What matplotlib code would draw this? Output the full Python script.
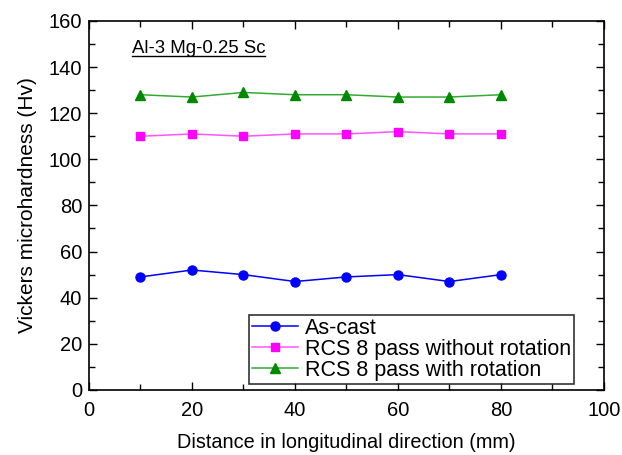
import matplotlib
matplotlib.use("Agg")
import matplotlib.pyplot as plt
from matplotlib.ticker import MultipleLocator
from matplotlib.lines import Line2D

plt.rcParams['font.family'] = ['Liberation Sans', 'DejaVu Sans']

distance = [10, 20, 30, 40, 50, 60, 70, 80]
as_cast = [49, 52, 50, 47, 49, 50, 47, 50]
rcs_no_rot = [110, 111, 110, 111, 111, 112, 111, 111]
rcs_rot = [128, 127, 129, 128, 128, 127, 127, 128]

fig = plt.figure(figsize=(6.22, 4.55), dpi=100)
ax = fig.add_axes([0.143, 0.143, 0.828, 0.811])

ax.plot(distance, as_cast, color='#0000ff', marker='o', markersize=6.5, lw=1.1, label='As-cast')
ax.plot(distance, rcs_no_rot, color='#ff55ff', marker='s', markersize=5.5,
        markerfacecolor='#ff00ff', markeredgecolor='#ff00ff', lw=1.1,
        label='RCS 8 pass without rotation')
ax.plot(distance, rcs_rot, color='#33aa33', marker='^', markersize=6.5,
        markerfacecolor='#008800', markeredgecolor='#008800', lw=1.1,
        label='RCS 8 pass with rotation')

ax.set_xlim(0, 100)
ax.set_ylim(0, 160)
ax.xaxis.set_major_locator(MultipleLocator(20))
ax.xaxis.set_minor_locator(MultipleLocator(10))
ax.yaxis.set_major_locator(MultipleLocator(20))
ax.yaxis.set_minor_locator(MultipleLocator(10))
ax.tick_params(which='both', direction='in', top=True, right=True, labelsize=14.5)
ax.tick_params(which='major', length=6, width=1)
ax.tick_params(which='minor', length=4, width=1)
ax.tick_params(axis='x', pad=8)
ax.tick_params(axis='y', pad=5)
for s in ax.spines.values():
    s.set_linewidth(1.2)

ax.set_xlabel('Distance in longitudinal direction (mm)', fontsize=14.3, labelpad=9)
ax.set_ylabel('Vickers microhardness (Hv)', fontsize=15, labelpad=8)

leg = ax.legend(loc='upper left', bbox_to_anchor=(0.311, 0.204), fontsize=15.5,
                frameon=True, fancybox=False, edgecolor='black', borderpad=0.15,
                labelspacing=0.0, handlelength=2.1, handletextpad=0.35,
                borderaxespad=0)
leg.get_frame().set_linewidth(1.2)

t = ax.text(0.083, 0.913, 'Al-3 Mg-0.25 Sc', transform=ax.transAxes, fontsize=13.4)
fig.canvas.draw()
bb = t.get_window_extent().transformed(fig.transFigure.inverted())
fig.add_artist(Line2D([bb.x0, bb.x1], [bb.y0 + 0.002, bb.y0 + 0.002],
                      transform=fig.transFigure, color='black', lw=1))

fig.savefig('out.png', dpi=100)
